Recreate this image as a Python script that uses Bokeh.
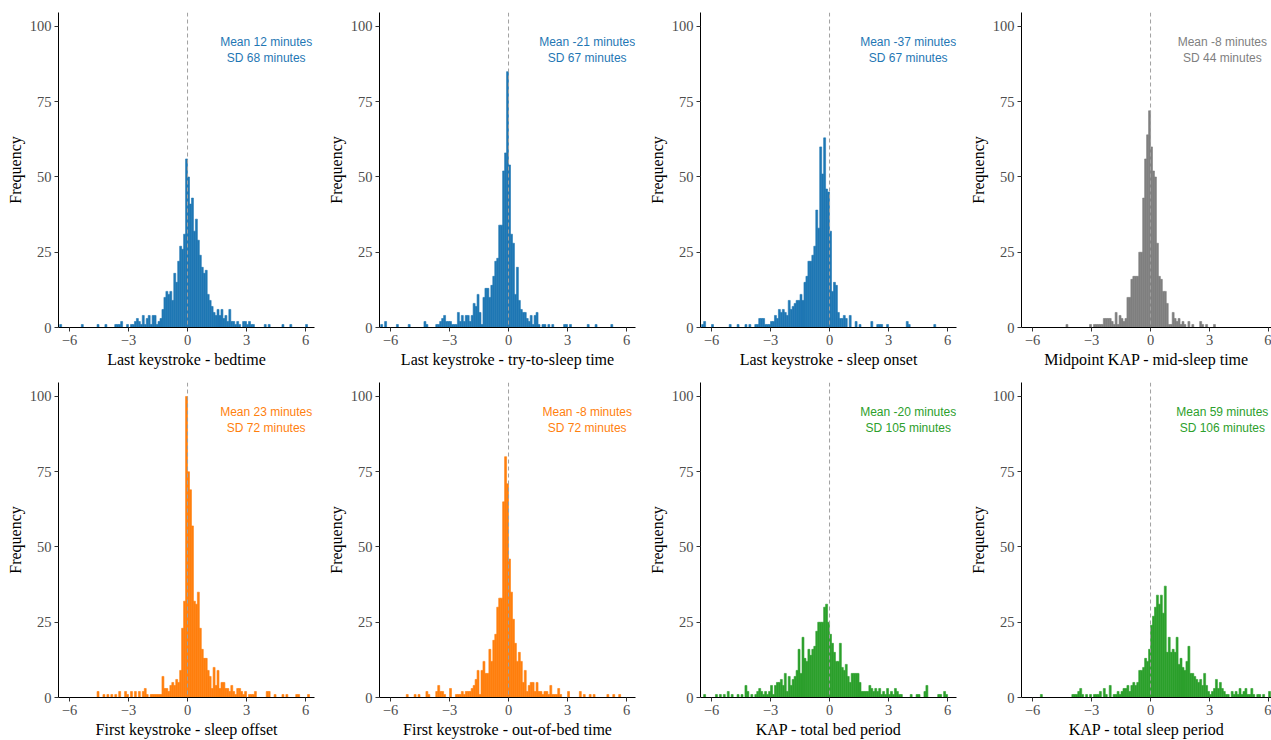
from bokeh.plotting import figure
from bokeh.layouts import gridplot
from bokeh.models import Span, FixedTicker, Range1d, ColumnDataSource, Label
from bokeh.embed import file_html
from bokeh.resources import INLINE

# ---------------- data ----------------
# histogram bins: 0.1 h wide, from -6.5 h to 6.5 h (130 bins); rows of 10 bins = 1 hour
bin_edges = [round(-6.5 + 0.1 * i, 1) for i in range(131)]

x_titles = [
    "Last keystroke - bedtime",
    "Last keystroke - try-to-sleep time",
    "Last keystroke - sleep onset",
    "Midpoint KAP - mid-sleep time",
    "First keystroke - sleep offset",
    "First keystroke - out-of-bed time",
    "KAP - total bed period",
    "KAP - total sleep period",
]
mean_minutes = [12, -21, -37, -8, 23, -8, -20, 59]
sd_minutes = [68, 67, 67, 44, 72, 72, 105, 106]
panel_colors = ["#1f77b4", "#1f77b4", "#1f77b4", "#7f7f7f",
                "#ff7f0e", "#ff7f0e", "#2ca02c", "#2ca02c"]

bedtime_counts = [
    1, 0, 0, 0, 0, 0, 0, 0, 0, 0,
    0, 1, 0, 0, 0, 0, 0, 0, 0, 1,
    0, 0, 0, 1, 0, 0, 0, 0, 1, 1,
    1, 2, 0, 0, 1, 0, 1, 1, 2, 3,
    2, 1, 4, 1, 3, 4, 1, 4, 4, 1,
    2, 3, 6, 10, 12, 11, 12, 9, 18, 15,
    22, 27, 26, 31, 56, 50, 41, 43, 32, 36,
    29, 24, 20, 18, 19, 11, 9, 7, 5, 4,
    6, 4, 6, 3, 4, 2, 6, 2, 2, 1,
    2, 1, 0, 2, 2, 1, 2, 1, 1, 0,
    0, 0, 0, 0, 1, 0, 1, 0, 0, 0,
    0, 0, 0, 1, 0, 0, 0, 1, 0, 0,
    0, 0, 0, 0, 0, 1, 0, 0, 0, 0,
]
try_sleep_counts = [
    1, 0, 2, 0, 0, 0, 0, 0, 1, 0,
    0, 0, 0, 0, 1, 0, 0, 0, 0, 0,
    0, 0, 2, 1, 0, 0, 0, 0, 1, 1,
    2, 3, 4, 2, 2, 2, 1, 1, 1, 5,
    2, 4, 2, 4, 4, 2, 4, 8, 7, 11,
    5, 1, 10, 13, 13, 10, 14, 17, 22, 23,
    34, 34, 52, 58, 85, 54, 31, 28, 11, 20,
    9, 6, 5, 5, 3, 2, 4, 1, 4, 5,
    1, 0, 1, 1, 0, 1, 0, 1, 0, 0,
    0, 0, 0, 1, 1, 0, 1, 0, 0, 0,
    0, 0, 0, 0, 0, 1, 0, 0, 0, 1,
    0, 0, 0, 0, 0, 0, 0, 1, 0, 0,
    0, 0, 0, 0, 0, 0, 0, 0, 0, 0,
]
sleep_onset_counts = [
    1, 2, 0, 0, 0, 1, 0, 0, 0, 0,
    0, 0, 0, 0, 1, 0, 0, 0, 1, 0,
    0, 0, 1, 0, 1, 0, 0, 1, 1, 3,
    3, 3, 1, 1, 1, 2, 2, 4, 3, 6,
    5, 6, 5, 4, 9, 6, 7, 8, 9, 9,
    11, 9, 15, 17, 22, 22, 24, 27, 39, 33,
    60, 51, 63, 46, 45, 32, 12, 15, 14, 5,
    3, 3, 4, 3, 0, 4, 0, 0, 2, 0,
    1, 0, 0, 0, 0, 0, 2, 0, 0, 1,
    1, 1, 0, 0, 1, 0, 0, 0, 0, 0,
    0, 0, 0, 0, 2, 1, 0, 0, 0, 0,
    0, 0, 0, 0, 0, 0, 0, 0, 1, 0,
    0, 0, 0, 0, 0, 0, 0, 0, 0, 0,
]
mid_sleep_counts = [
    0, 0, 0, 0, 0, 0, 0, 0, 0, 0,
    0, 0, 0, 0, 0, 0, 0, 0, 0, 0,
    0, 0, 1, 0, 0, 0, 0, 0, 0, 0,
    0, 0, 0, 0, 1, 0, 1, 1, 1, 1,
    1, 3, 3, 3, 3, 2, 1, 5, 1, 4,
    3, 2, 3, 10, 10, 16, 17, 17, 17, 25,
    25, 43, 56, 64, 72, 60, 52, 50, 28, 17,
    16, 12, 12, 8, 1, 1, 5, 3, 2, 3,
    1, 2, 1, 0, 2, 0, 1, 0, 0, 0,
    2, 1, 0, 1, 0, 0, 0, 1, 0, 0,
    0, 0, 0, 0, 0, 0, 0, 0, 0, 0,
    0, 0, 0, 0, 0, 0, 0, 0, 0, 0,
    0, 0, 0, 0, 0, 0, 0, 0, 0, 0,
]
sleep_offset_counts = [
    0, 0, 0, 0, 0, 0, 0, 0, 0, 0,
    0, 0, 0, 0, 0, 0, 0, 0, 0, 2,
    0, 0, 1, 0, 1, 0, 1, 0, 1, 0,
    2, 0, 0, 2, 1, 0, 2, 0, 2, 0,
    2, 0, 2, 3, 1, 0, 1, 1, 1, 1,
    1, 1, 7, 3, 3, 2, 4, 5, 4, 6,
    5, 9, 23, 32, 100, 75, 69, 57, 32, 31,
    35, 23, 16, 13, 13, 9, 7, 3, 10, 4,
    9, 3, 5, 5, 3, 3, 2, 4, 2, 1,
    3, 3, 2, 1, 2, 0, 1, 1, 1, 2,
    0, 0, 0, 0, 0, 2, 2, 0, 0, 1,
    0, 0, 0, 1, 0, 1, 0, 0, 0, 0,
    1, 1, 0, 0, 0, 0, 1, 0, 0, 0,
]
out_of_bed_counts = [
    0, 0, 0, 0, 0, 0, 0, 0, 0, 0,
    0, 0, 0, 1, 0, 0, 0, 1, 0, 1,
    0, 0, 0, 2, 1, 0, 0, 0, 2, 4,
    2, 2, 1, 0, 0, 3, 0, 0, 1, 1,
    1, 2, 1, 2, 2, 2, 3, 4, 6, 9,
    1, 9, 12, 8, 8, 16, 12, 19, 21, 30,
    33, 33, 65, 80, 71, 46, 35, 26, 18, 12,
    15, 12, 5, 9, 2, 4, 5, 5, 2, 5,
    2, 2, 1, 2, 2, 1, 4, 1, 1, 1,
    3, 1, 0, 0, 0, 2, 0, 0, 0, 0,
    0, 2, 0, 1, 0, 0, 1, 0, 1, 0,
    0, 0, 0, 0, 0, 1, 0, 0, 1, 0,
    0, 1, 0, 0, 0, 0, 0, 0, 0, 0,
]
bed_period_counts = [
    0, 1, 0, 0, 0, 0, 0, 1, 0, 1,
    0, 1, 0, 2, 0, 1, 0, 0, 1, 0,
    1, 0, 4, 2, 0, 1, 0, 1, 2, 3,
    2, 1, 2, 1, 2, 4, 1, 4, 5, 5,
    6, 4, 8, 2, 7, 4, 6, 7, 9, 16,
    8, 20, 13, 12, 16, 14, 16, 17, 22, 25,
    25, 25, 30, 31, 25, 21, 18, 15, 12, 12,
    18, 10, 9, 11, 7, 5, 8, 8, 8, 8,
    5, 2, 2, 2, 2, 4, 3, 2, 3, 2,
    3, 1, 2, 1, 3, 1, 2, 1, 3, 2,
    1, 1, 0, 0, 0, 0, 1, 0, 0, 1,
    1, 0, 0, 2, 4, 0, 0, 0, 0, 0,
    1, 1, 0, 2, 1, 0, 0, 0, 0, 0,
]
sleep_period_counts = [
    0, 0, 0, 0, 0, 0, 0, 0, 0, 1,
    0, 0, 0, 0, 0, 0, 0, 0, 0, 0,
    0, 0, 0, 0, 0, 1, 1, 1, 2, 3,
    1, 0, 1, 0, 1, 0, 1, 1, 1, 2,
    0, 3, 1, 0, 4, 0, 1, 1, 2, 1,
    2, 3, 3, 4, 2, 4, 5, 4, 5, 9,
    9, 10, 13, 12, 16, 24, 27, 30, 34, 31,
    34, 28, 37, 15, 20, 15, 16, 15, 20, 11,
    13, 10, 9, 12, 17, 8, 8, 7, 6, 5,
    6, 4, 8, 4, 2, 1, 2, 3, 6, 3,
    5, 3, 2, 1, 1, 0, 2, 1, 2, 1,
    3, 1, 2, 3, 1, 1, 3, 1, 0, 1,
    1, 0, 1, 0, 0, 2, 0, 0, 0, 0,
]
all_counts = [bedtime_counts, try_sleep_counts, sleep_onset_counts, mid_sleep_counts,
              sleep_offset_counts, out_of_bed_counts, bed_period_counts, sleep_period_counts]

x_ticks = [-6, -3, 0, 3, 6]
y_ticks = [0, 25, 50, 75, 100]

# ---------------- plotting ----------------
SERIF = "Liberation Serif"
SANS = "Liberation Sans"
PX_PER_HOUR = 19.67
X_START = -6.56


def make_panel(i):
    last_col = (i % 4) == 3
    w = 308 if last_col else 321
    left, right = 58, (0 if last_col else 7)
    frame_w = w - left - right
    x_end = X_START + frame_w / PX_PER_HOUR
    p = figure(width=w, height=370, output_backend="svg", toolbar_location=None,
               x_range=Range1d(X_START, x_end), y_range=Range1d(0, 104.65),
               min_border_left=left, min_border_right=right,
               min_border_top=12, min_border_bottom=43)
    p.outline_line_color = None
    p.xgrid.grid_line_color = None
    p.ygrid.grid_line_color = None
    p.background_fill_color = "white"
    p.border_fill_color = "white"

    counts = all_counts[i]
    lefts = [bin_edges[k] for k in range(len(counts)) if counts[k] > 0]
    rights = [bin_edges[k + 1] for k in range(len(counts)) if counts[k] > 0]
    tops = [counts[k] for k in range(len(counts)) if counts[k] > 0]
    src = ColumnDataSource(dict(left=lefts, right=rights, top=tops))
    p.quad(left="left", right="right", bottom=0, top="top", source=src,
           fill_color=panel_colors[i], line_color=panel_colors[i], line_width=0.6)

    p.add_layout(Span(location=0, dimension="height", line_color="#a0a0a0",
                      line_dash="4 3", line_width=1))

    label_x = 3.65 if last_col else 4
    p.add_layout(Label(x=label_x, y=94.7, text=f"Mean {mean_minutes[i]} minutes",
                       text_align="center", text_baseline="middle",
                       text_font=SANS, text_font_size="12px", text_color=panel_colors[i]))
    p.add_layout(Label(x=label_x, y=89.6, text=f"SD {sd_minutes[i]} minutes",
                       text_align="center", text_baseline="middle",
                       text_font=SANS, text_font_size="12px", text_color=panel_colors[i]))

    for ax in (p.xaxis[0], p.yaxis[0]):
        ax.axis_line_color = "black"
        ax.axis_line_width = 1
        ax.major_tick_line_color = "#333333"
        ax.major_tick_out = 4
        ax.major_tick_in = 0
        ax.minor_tick_line_color = None
        ax.major_label_text_font = SERIF
        ax.major_label_text_font_size = "14.5px"
        ax.major_label_text_color = "#4d4d4d"
        ax.major_label_standoff = 3
        ax.axis_label_text_font = SERIF
        ax.axis_label_text_font_size = "16px"
        ax.axis_label_text_font_style = "normal"
        ax.axis_label_text_color = "black"
        ax.axis_label_standoff = 3
    p.xaxis.ticker = FixedTicker(ticks=x_ticks)
    p.yaxis.ticker = FixedTicker(ticks=y_ticks)
    p.xaxis.axis_label = x_titles[i]
    p.yaxis.axis_label = "Frequency"
    return p


panels = [make_panel(i) for i in range(8)]
grid = gridplot([panels[:4], panels[4:]], toolbar_location=None)

open("out.html", "w").write(file_html(grid, INLINE))
